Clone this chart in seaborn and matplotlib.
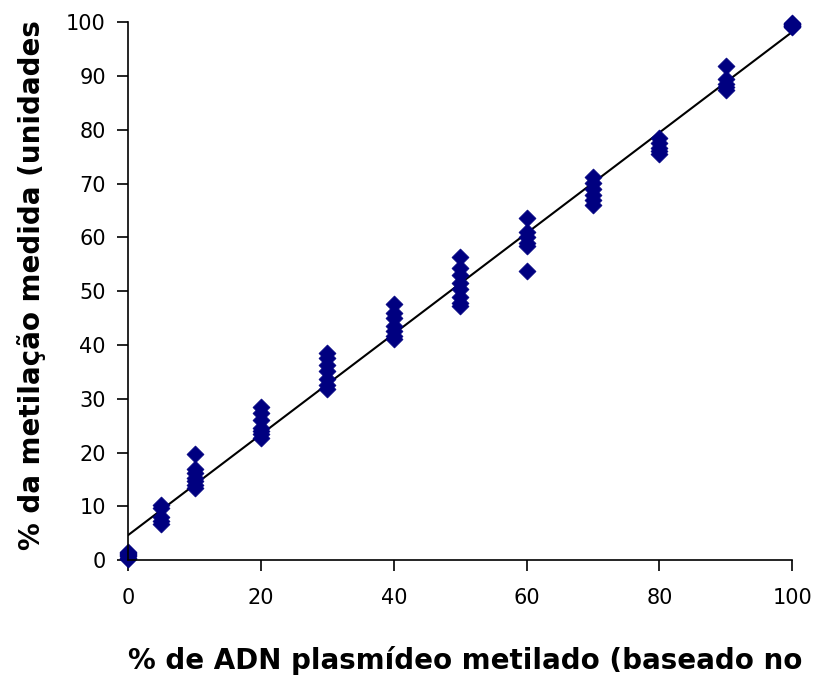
import numpy as np
import pandas as pd
import matplotlib
matplotlib.use("Agg")
import matplotlib.pyplot as plt
import seaborn as sns

# Data (overlapping points at 0 and 100)
x0 = [0, 0, 0, 0, 0, 0, 0]
y0 = [0.3, 0.5, 0.7, 0.9, 1.1, 1.3, 1.5]
x5 = [5, 5, 5, 5, 5]
y5 = [10.3, 9.7, 8.0, 7.3, 6.7]
x10 = [10, 10, 10, 10, 10, 10, 10]
y10 = [19.7, 17.0, 16.3, 15.3, 14.7, 14.0, 13.4]
x20 = [20, 20, 20, 20, 20, 20, 20]
y20 = [28.5, 27.4, 26.0, 24.6, 24.0, 23.5, 22.8]
x30 = [30, 30, 30, 30, 30, 30, 30]
y30 = [38.6, 37.6, 36.3, 35.2, 33.6, 32.6, 31.9]
x40 = [40, 40, 40, 40, 40, 40, 40]
y40 = [47.6, 45.9, 45.0, 43.5, 42.6, 41.7, 41.1]
x50 = [50, 50, 50, 50, 50, 50, 50, 50]
y50 = [56.3, 54.4, 53.0, 51.6, 50.4, 49.0, 47.9, 47.2]
x60 = [60, 60, 60, 60, 60, 60]
y60 = [63.7, 61.0, 60.0, 59.0, 58.5, 53.7]
x70 = [70, 70, 70, 70, 70, 70]
y70 = [71.3, 70.1, 69.0, 67.9, 67.0, 66.0]
x80 = [80, 80, 80, 80, 80]
y80 = [78.5, 77.6, 76.6, 76.0, 75.6]
x90 = [90, 90, 90, 90, 90]
y90 = [91.8, 89.5, 88.6, 88.0, 87.4]
x100 = [100, 100, 100, 100, 100, 100, 100]
y100 = [99.9, 99.7, 99.6, 99.5, 99.4, 99.3, 99.2]

x_ticks = [0, 20, 40, 60, 80, 100]
y_ticks = [0, 10, 20, 30, 40, 50, 60, 70, 80, 90, 100]
x_label = "% de ADN plasmídeo metilado (baseado no"
y_label = "% da metilação medida (unidades"

xs = x0 + x5 + x10 + x20 + x30 + x40 + x50 + x60 + x70 + x80 + x90 + x100
ys = y0 + y5 + y10 + y20 + y30 + y40 + y50 + y60 + y70 + y80 + y90 + y100
df = pd.DataFrame({"x": xs, "y": ys})

sns.set_theme(style="white")
plt.rcParams["font.family"] = ["DejaVu Sans"]
plt.rcParams["text.color"] = "black"

fig = plt.figure(figsize=(8.16, 6.75), dpi=100)
ax = fig.add_axes([0.157, 0.170, 0.814, 0.797])

# regression line fitted to data
slope, intercept = np.polyfit(df["x"], df["y"], 1)
line_x = np.array([0, 100])
ax.plot(line_x, slope * line_x + intercept, color="black", lw=1.5, zorder=1)

sns.scatterplot(data=df, x="x", y="y", ax=ax, marker="D", s=75,
                color="#000080", edgecolor="#000080", linewidth=0.5, zorder=2,
                legend=False, clip_on=False)

ax.set_xlim(0, 100)
ax.set_ylim(0, 100)
ax.set_xticks(x_ticks)
ax.set_yticks(y_ticks)
ax.tick_params(axis="both", direction="out", length=8, width=1.2,
               labelsize=15, colors="black", bottom=True, left=True)
ax.tick_params(axis="x", pad=12)
ax.tick_params(axis="y", pad=8)
for side in ["top", "right"]:
    ax.spines[side].set_visible(False)
for side in ["left", "bottom"]:
    ax.spines[side].set_color("black")
    ax.spines[side].set_linewidth(1.2)
ax.set_xlabel("")
ax.set_ylabel("")

fig.text(0.57, 0.022, x_label, ha="center", va="center", fontsize=20,
         fontweight="bold", color="black")
fig.text(0.038, 0.578, y_label, ha="center", va="center", rotation=90,
         fontsize=20, fontweight="bold", color="black")

fig.savefig("out.png", dpi=100)
